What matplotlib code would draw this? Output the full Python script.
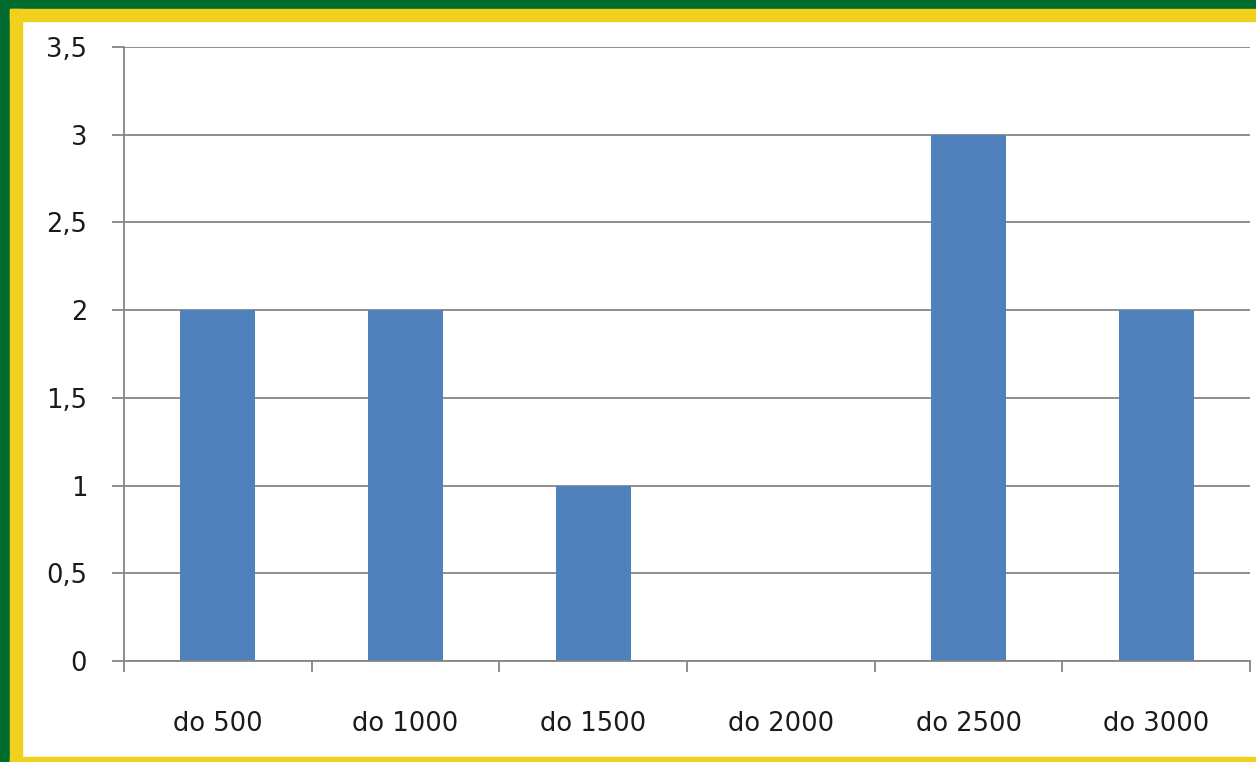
import matplotlib
matplotlib.use("Agg")
import matplotlib.pyplot as plt
from matplotlib.patches import Rectangle
from matplotlib.ticker import MultipleLocator, FuncFormatter
import numpy as np

categories = ["do 500", "do 1000", "do 1500", "do 2000", "do 2500", "do 3000"]
counts = [2, 2, 1, 0, 3, 2]

W, H = 1256, 762
BAR_COLOR = "#4F81BD"
GRID_COLOR = "#868686"
GREEN = "#006B2F"
YELLOW = "#F2D01E"
TEXT_COLOR = "#1a1a1a"

plt.rcParams["font.family"] = ["DejaVu Sans"]

fig = plt.figure(figsize=(W / 100, H / 100), dpi=100)
fig.patch.set_facecolor("white")


def px_rect(x0, y0, x1, y1, color):
    # rectangle given in pixel coords (top-left origin)
    fig.patches.append(Rectangle((x0 / W, 1 - y1 / H), (x1 - x0) / W, (y1 - y0) / H,
                                 transform=fig.transFigure, color=color, zorder=0))


# frame: green outer, yellow inner
px_rect(0, 0, W, 9, GREEN)
px_rect(0, 0, 10, H, GREEN)
px_rect(10, 9, W, 21, YELLOW)
px_rect(10, 9, 22, H, YELLOW)
px_rect(10, 757, W, H, YELLOW)

ax = fig.add_axes([124 / W, 1 - 661 / H, (1250 - 124) / W, (661 - 47) / H])
ax.set_facecolor("none")

x = np.arange(len(categories))
ax.bar(x, counts, width=0.4, color=BAR_COLOR, zorder=3)

ax.set_xlim(-0.5, len(categories) - 0.5)
ax.set_ylim(0, 3.5)
ax.yaxis.set_major_locator(MultipleLocator(0.5))
ax.yaxis.set_major_formatter(FuncFormatter(lambda v, p: f"{v:g}".replace(".", ",")))
ax.grid(axis="y", color=GRID_COLOR, linewidth=1.3, zorder=0)

# category labels centred, tick marks at the boundaries
ax.set_xticks(x)
ax.set_xticklabels(categories)
ax.set_xticks(np.arange(len(categories) + 1) - 0.5, minor=True)
ax.tick_params(axis="x", which="major", length=0, pad=36, labelsize=18.5, labelcolor=TEXT_COLOR)
ax.tick_params(axis="x", which="minor", length=8, width=1.3, color=GRID_COLOR)
ax.tick_params(axis="y", length=8.5, width=1.3, color=GRID_COLOR, pad=18, labelsize=18.5,
               labelcolor=TEXT_COLOR)

for side in ("top", "right"):
    ax.spines[side].set_visible(False)
for side in ("left", "bottom"):
    ax.spines[side].set_color(GRID_COLOR)
    ax.spines[side].set_linewidth(1.3)
    ax.spines[side].set_zorder(4)

fig.savefig("out.png", dpi=100)
